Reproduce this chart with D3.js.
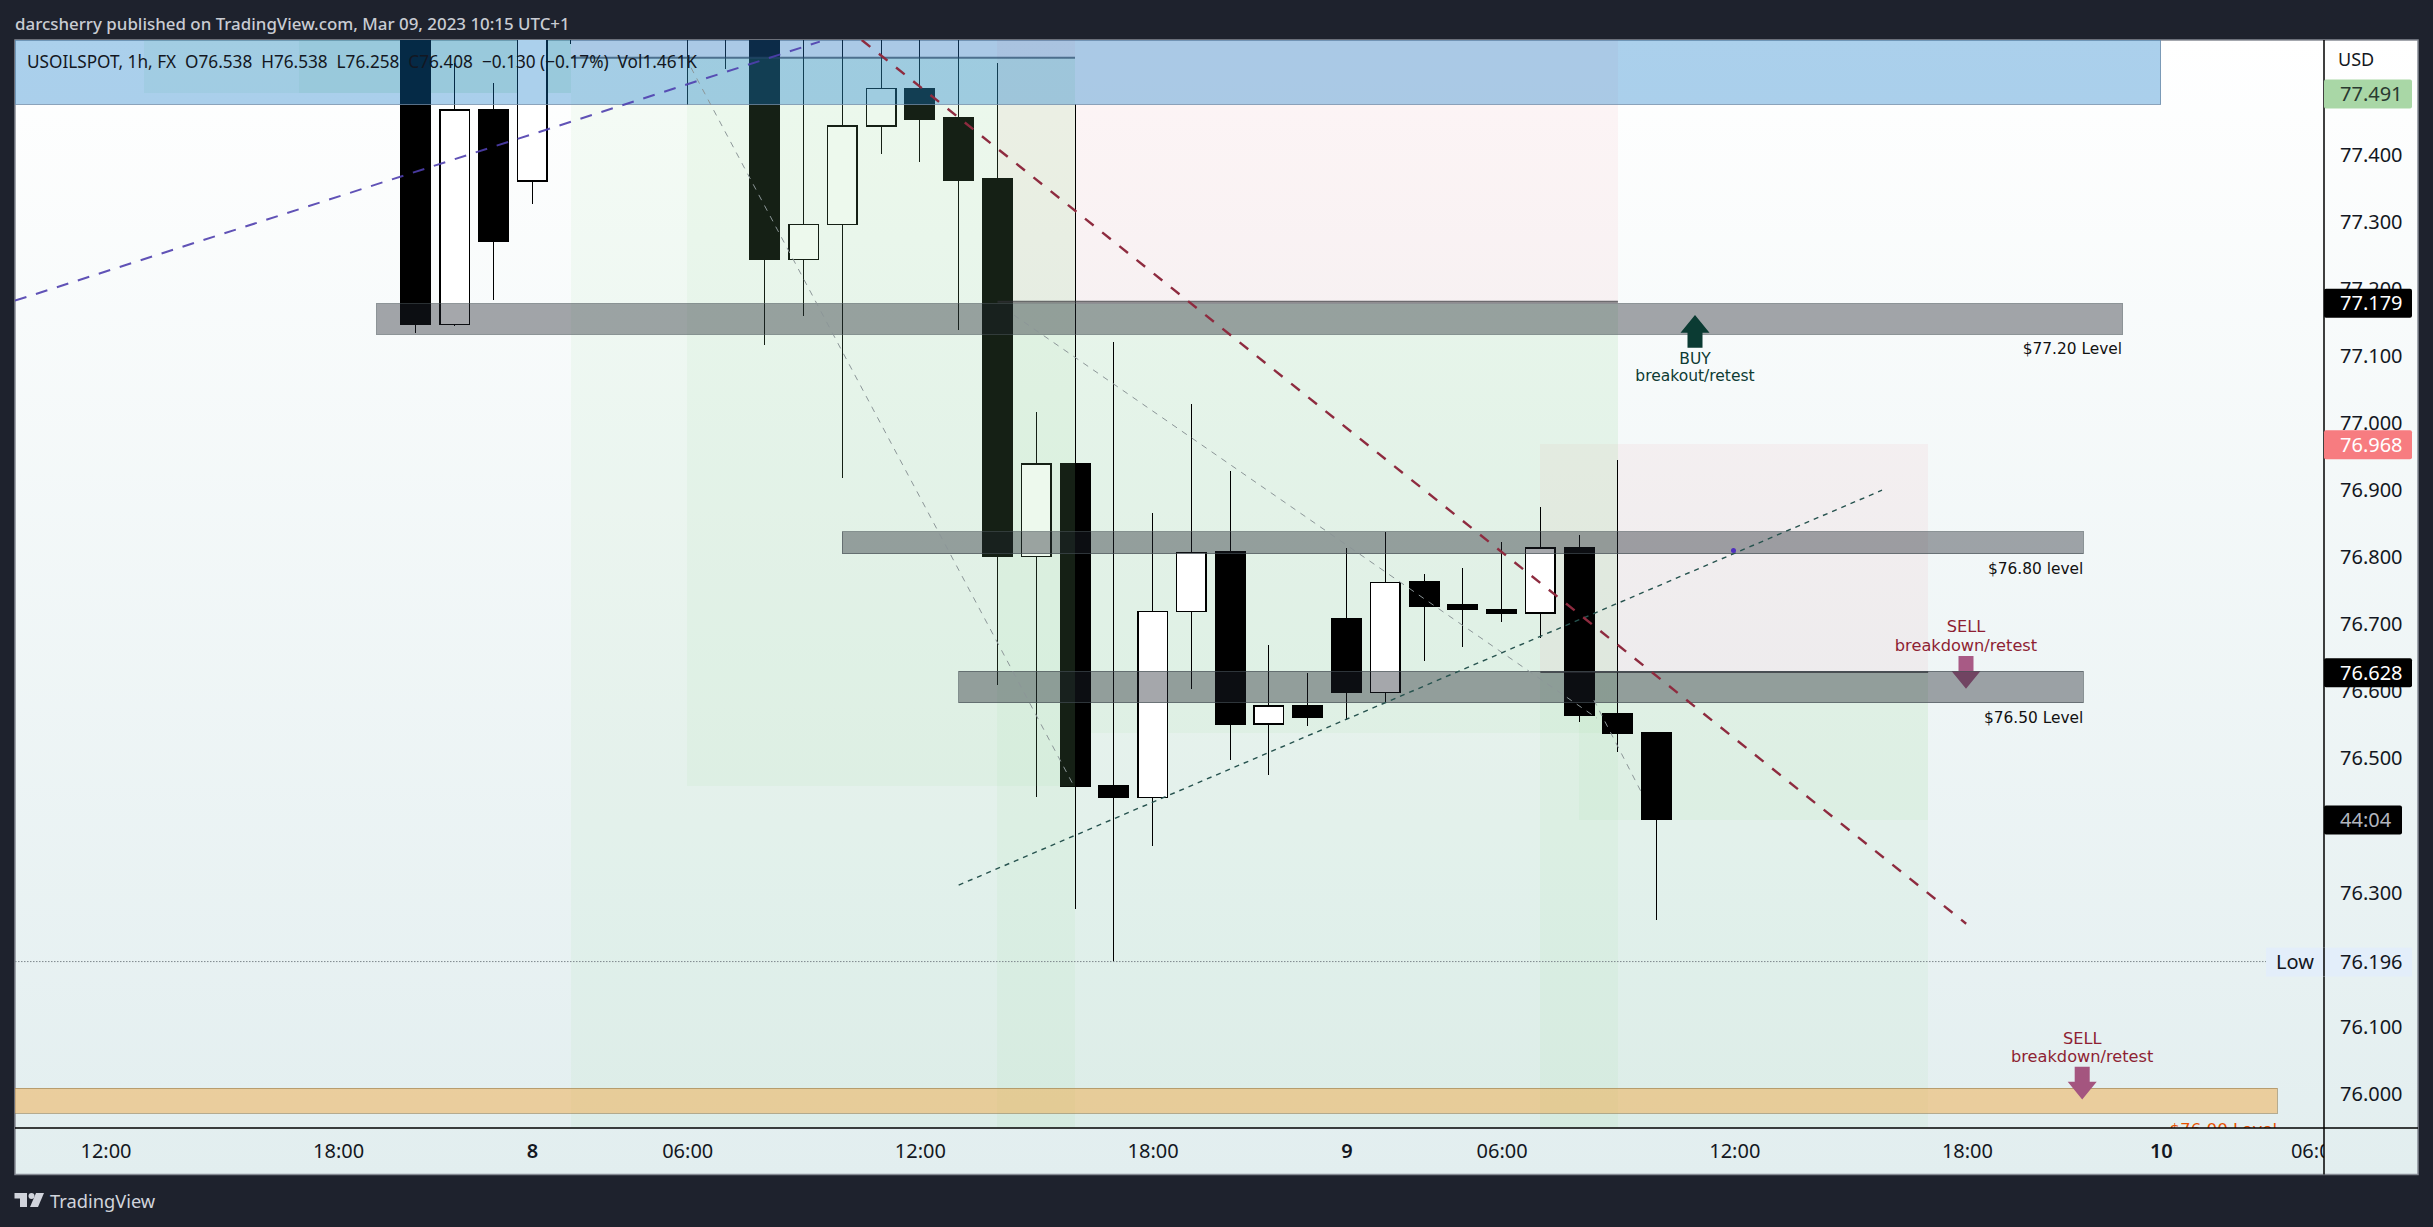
<!DOCTYPE html>
<html>
<head>
<meta charset="utf-8">
<script src="https://cdn.jsdelivr.net/npm/d3@7"></script>
<style>
html,body{margin:0;padding:0;background:#1e222d;overflow:hidden}
svg{display:block}
text{font-family:"Noto Sans",sans-serif;white-space:pre}
</style>
</head>
<body>
<svg id="chart" width="2433" height="1227"></svg>
<script>
// ---------- data ----------
const barIndex = d3.range(8, 41);
const opens  = [77.70,77.146,77.466,77.36,77.64,77.62,77.70,77.72,77.62,77.68,77.243,77.295,77.442,77.498,77.454,77.363,76.80,76.938,76.458,76.441,76.718,76.807,76.55,76.577,76.707,76.597,76.762,76.728,76.721,76.716,76.813,76.565,76.538];
const highs  = [77.75,77.536,77.506,77.68,77.70,77.75,77.78,77.76,77.72,77.72,77.62,77.62,77.62,77.62,77.62,77.536,77.016,77.475,77.12,76.865,77.028,76.928,76.668,76.626,76.813,76.837,76.774,76.783,76.822,76.874,76.832,76.944,76.538];
const lows   = [77.134,77.144,77.183,77.326,77.564,77.60,77.62,77.473,77.527,77.115,77.159,76.917,77.40,77.388,77.138,76.609,76.441,76.275,76.196,76.369,76.603,76.496,76.475,76.548,76.557,76.582,76.645,76.665,76.703,76.678,76.553,76.508,76.258];
const closes = [77.146,77.466,77.271,77.65,77.62,77.70,77.72,77.62,77.68,77.243,77.295,77.442,77.498,77.453,77.362,76.80,76.938,76.457,76.441,76.718,76.806,76.55,76.577,76.561,76.597,76.761,76.726,76.721,76.715,76.813,76.564,76.536,76.408];

const priceTicks = [76.0,76.1,76.3,76.5,76.6,76.7,76.8,76.9,77.0,77.1,77.2,77.3,77.4];
const timeTicks  = [0,6,11,15,21,27,32,36,42,48,53,57];
const timeLabels = ["12:00","18:00","8","06:00","12:00","18:00","9","06:00","12:00","18:00","10","06:00"];
const dayTicks   = ["8","9","10"];

// [first bar, last bar, top price, bottom price]
const toolsUnderBars = [
  [23,39,77.62,77.177,"pink"],[37,47,76.968,76.628,"pink"],
  [23,39,77.177,75.90,"green"],[25,39,77.177,76.537,"green"],
  [37,47,76.628,75.90,"green"],[38,47,76.628,76.407,"green"],
  [1,12,77.62,77.491,"strip"],[5,12,77.62,77.491,"strip"]
];
const toolsOverBars = [
  [12,25,77.62,77.544,"pink"],
  [12,25,77.544,75.90,"green"],[15,25,77.544,76.458,"green"]
];
const entryLines = [[12,25,77.544],[23,39,77.18],[37,47,76.628]];

const grayZones = [[7,52,77.177,77.1315],[19,51,76.837,76.804],[22,51,76.629,76.582]];
const blueZone = [-3,53,77.62,77.4746];
const orangeZone = [-3,56,76.007,75.970];
const lowPrice = 76.196;

const blueTrend  = [[-2.334,77.1817],[18.42,77.568]];
const redTrend   = [[19.50,77.5705],[47.98,76.2525]];
const greenTrend = [[22.0,76.310],[45.81,76.899]];
const grayTrends = [[[15.10,77.529],[24.97,76.458]],[[23.43,77.16],[38.46,76.559]],[[38.38,76.586],[39.60,76.449]]];
const bluePoint  = [41.98,76.809];

const levelLabels = [["$77.20 Level",52,77.1315,"#111"],["$76.80 level",51,76.804,"#111"],["$76.50 Level",51,76.582,"#111"]];
const priceBoxes = [[77.491,"77.491","#a9d7a6","#2a3a30"],[77.179,"77.179","#000","#fff"],[76.968,"76.968","#f77c80","#fff"],[76.628,"76.628","#000","#fff"]];
const legendText = "USOILSPOT, 1h, FX  O76.538  H76.538  L76.258  C76.408  \u22120.130 (\u22120.17%)  Vol1.461K";
const headerText = "darcsherry published on TradingView.com, Mar 09, 2023 10:15 UTC+1";

// ---------- layout ----------
const svg = d3.select("#chart");
const P = {l:15,t:40,axisX:2324,axisY:1128,r:2418,b:1174.5};
const x = d3.scaleLinear().domain([0,57]).range([105.5,105.5+38.78*57]);
const y = d3.scaleLinear().domain([76,77.4]).range([1093,154.3]);
const bodyW = 31;

const defs = svg.append("defs");
const grad = defs.append("linearGradient").attr("id","bg").attr("x1",0).attr("y1",0).attr("x2",0).attr("y2",1);
grad.append("stop").attr("offset","0%").attr("stop-color","#ffffff");
grad.append("stop").attr("offset","100%").attr("stop-color","#e2eeef");
defs.append("clipPath").attr("id","plot").append("rect").attr("x",P.l).attr("y",P.t).attr("width",P.axisX-P.l).attr("height",P.axisY-P.t);
defs.append("clipPath").attr("id","timeclip").append("rect").attr("x",P.l).attr("y",P.axisY).attr("width",P.axisX-P.l).attr("height",P.b-P.axisY);

svg.append("rect").attr("width",2433).attr("height",1227).attr("fill","#1e222d");
svg.append("rect").attr("x",P.l).attr("y",P.t).attr("width",P.r-P.l).attr("height",P.b-P.t).attr("fill","url(#bg)")
   .attr("stroke","#868b94").attr("stroke-width",1.5);

const plot = svg.append("g").attr("clip-path","url(#plot)");
const toolFill = {pink:"rgba(242,54,69,0.05)",green:"rgba(140,215,145,0.08)",strip:"rgba(140,215,145,0.12)"};
function drawRects(g, rows, fill, stroke, sw){
  g.selectAll(null).data(rows).join("rect")
    .attr("x",d=>x(d[0])).attr("width",d=>x(d[1])-x(d[0]))
    .attr("y",d=>y(d[2])).attr("height",d=>y(d[3])-y(d[2]))
    .attr("fill",fill).attr("stroke",stroke||"none").attr("stroke-width",sw||1)
    .attr("shape-rendering","crispEdges");
}
drawRects(plot.append("g"),toolsUnderBars,d=>toolFill[d[4]]);

// candles
const bars = barIndex.map((i,k)=>({i,o:opens[k],h:highs[k],l:lows[k],c:closes[k]}));
const gc = plot.append("g").attr("shape-rendering","crispEdges");
gc.selectAll("line").data(bars).join("line")
  .attr("x1",d=>x(d.i)).attr("x2",d=>x(d.i)).attr("y1",d=>y(d.h)).attr("y2",d=>y(d.l))
  .attr("stroke","#000").attr("stroke-width",1);
gc.selectAll("rect").data(bars).join("rect")
  .attr("x",d=>x(d.i)-bodyW/2+0.75).attr("width",bodyW-1.5)
  .attr("y",d=>y(Math.max(d.o,d.c))).attr("height",d=>Math.max(1,Math.abs(y(d.o)-y(d.c))))
  .attr("fill",d=>d.c>d.o?"#fff":"#000").attr("stroke","#000").attr("stroke-width",1.5);

drawRects(plot.append("g"),toolsOverBars,d=>toolFill[d[4]]);

plot.append("g").selectAll("line").data(entryLines).join("line")
  .attr("x1",d=>x(d[0])).attr("x2",d=>x(d[1])).attr("y1",d=>y(d[2])).attr("y2",d=>y(d[2]))
  .attr("stroke","rgba(50,50,55,0.7)").attr("stroke-width",2);

function arrow(g,cx,tip,dir,col){
  const sh=dir>0?32.7:-32.7, hb=dir>0?17.7:-17.7;
  const p=[[cx,tip],[cx-14.5,tip+hb],[cx-7.5,tip+hb],[cx-7.5,tip+sh],[cx+7.5,tip+sh],[cx+7.5,tip+hb],[cx+14.5,tip+hb]];
  g.append("path").attr("d",d3.line()(p)+"Z").attr("fill",col);
}
arrow(plot,1966,688.7,-1,"#a85a85");

drawRects(plot.append("g"),grayZones,"rgba(30,35,45,0.4)","rgba(70,80,85,0.6)");
drawRects(plot.append("g"),[orangeZone],"rgba(240,175,80,0.52)","rgba(150,125,80,0.6)");
drawRects(plot.append("g"),[blueZone],"rgba(14,120,200,0.35)","rgba(110,140,170,0.8)");

arrow(plot,2082.2,1099.4,-1,"#a4557f");
arrow(plot,1695,315,1,"#0b3b33");

// trend lines
const line = d3.line().x(d=>x(d[0])).y(d=>y(d[1]));
plot.append("path").attr("d",line(blueTrend)).attr("fill","none").attr("stroke","#4f3fae").attr("stroke-width",2).attr("stroke-dasharray","12 10").attr("opacity",.9);
plot.selectAll(null).data(grayTrends).join("path").attr("d",line).attr("fill","none").attr("stroke","#8c9698").attr("stroke-width",1).attr("stroke-dasharray","6 6");
plot.append("path").attr("d",line(greenTrend)).attr("fill","none").attr("stroke","#27534f").attr("stroke-width",1.4).attr("stroke-dasharray","5 5");
plot.append("path").attr("d",line(redTrend)).attr("fill","none").attr("stroke","#8e2b3f").attr("stroke-width",2.4).attr("stroke-dasharray","11 11");
plot.append("circle").attr("cx",x(bluePoint[0])).attr("cy",y(bluePoint[1])).attr("r",2.5).attr("fill","#4f2fbe");

// low line
plot.append("line").attr("x1",P.l).attr("x2",2266).attr("y1",y(lowPrice)).attr("y2",y(lowPrice))
  .attr("stroke","#7d878c").attr("stroke-width",1).attr("stroke-dasharray","1.5 1.5");

// labels on the chart
const dj = '"DejaVu Sans",sans-serif';
plot.selectAll(null).data(levelLabels).join("text")
  .attr("x",d=>x(d[1])).attr("y",d=>y(d[2])+14.5).attr("dy",".36em").attr("text-anchor","end")
  .attr("font-size",15.4).style("font-family",dj).attr("fill",d=>d[3]).text(d=>d[0]);
plot.append("text").attr("x",x(56)).attr("y",1129).attr("dy",".36em").attr("text-anchor","end")
  .attr("font-size",16.7).style("font-family",dj).attr("fill","#e65100").text("$76.00 Level");
const sellRows=[[1966,626.6,"SELL"],[1966,645,"breakdown/retest"],[2082.2,1037.8,"SELL"],[2082.2,1056,"breakdown/retest"]];
plot.selectAll(null).data(sellRows).join("text").attr("x",d=>d[0]).attr("y",d=>d[1]).attr("dy",".36em").attr("text-anchor","middle")
  .attr("font-size",16.2).style("font-family",dj).attr("fill","#8e1f33").text(d=>d[2]);
const buyRows=[[1695,358.7,"BUY"],[1695,375,"breakout/retest"]];
plot.selectAll(null).data(buyRows).join("text").attr("x",d=>d[0]).attr("y",d=>d[1]).attr("dy",".36em").attr("text-anchor","middle")
  .attr("font-size",15.5).style("font-family",dj).attr("fill","#0d3b33").text(d=>d[2]);

// legend / header
svg.append("text").attr("x",27).attr("y",62).attr("dy",".36em").attr("font-size",17.2).attr("fill","#131722").text(legendText);
svg.append("text").attr("x",15).attr("y",24).attr("dy",".36em").attr("font-size",16.9).attr("font-weight",500).attr("fill","#c9ccd3").text(headerText);

// axes
const yAxis = svg.append("g").attr("transform",`translate(${P.axisX},0)`)
  .call(d3.axisRight(y).tickValues(priceTicks).tickFormat(d3.format(".3f")).tickSize(0).tickPadding(16));
yAxis.select(".domain").remove();
yAxis.selectAll("text").attr("font-size",20).attr("dy",".36em").style("font-family",'"Noto Sans",sans-serif').attr("fill","#131722");

const xAxis = svg.append("g").attr("clip-path","url(#timeclip)").append("g").attr("transform",`translate(0,${P.axisY})`)
  .call(d3.axisBottom(x).tickValues(timeTicks).tickFormat((d,i)=>timeLabels[i]).tickSize(0).tickPadding(15.6));
xAxis.select(".domain").remove();
xAxis.selectAll("text").attr("font-size",20).style("font-family",'"Noto Sans",sans-serif').attr("fill","#131722")
  .attr("font-weight",(d,i)=>dayTicks.includes(timeLabels[i])?600:400);

svg.append("line").attr("x1",P.axisX).attr("x2",P.axisX).attr("y1",P.t).attr("y2",P.b).attr("stroke","#000").attr("stroke-width",1.5);
svg.append("line").attr("x1",P.l).attr("x2",P.r).attr("y1",P.axisY).attr("y2",P.axisY).attr("stroke","#000").attr("stroke-width",1.5);

svg.append("text").attr("x",2338).attr("y",60).attr("dy",".36em").attr("font-size",18).attr("fill","#131722").text("USD");

// price boxes
const boxes = svg.append("g");
boxes.selectAll("rect").data(priceBoxes).join("rect").attr("x",P.axisX).attr("width",88).attr("height",29).attr("rx",2)
  .attr("y",d=>y(d[0])-13.7).attr("fill",d=>d[2]);
boxes.selectAll("text").data(priceBoxes).join("text").attr("x",P.axisX+16).attr("y",d=>y(d[0])+0.8).attr("dy",".36em")
  .attr("font-size",20).attr("fill",d=>d[3]).text(d=>d[1]);
// countdown
svg.append("rect").attr("x",P.axisX).attr("y",y(76.408)-14).attr("width",78).attr("height",29).attr("rx",2).attr("fill","#000");
svg.append("text").attr("x",P.axisX+16).attr("y",y(76.408)+0.5).attr("dy",".36em").attr("font-size",20).attr("fill","#b2b5be").text("44:04");
// low tag
svg.append("rect").attr("x",2266).attr("y",y(lowPrice)-14).attr("width",146).attr("height",29).attr("fill","#e3eefa");
svg.append("line").attr("x1",P.axisX).attr("x2",P.axisX).attr("y1",y(lowPrice)-14).attr("y2",y(lowPrice)+15).attr("stroke","#000").attr("stroke-width",1.5);
svg.append("text").attr("x",2276).attr("y",y(lowPrice)).attr("dy",".36em").attr("font-size",20).attr("fill","#131722").text("Low");
svg.append("text").attr("x",P.axisX+16).attr("y",y(lowPrice)).attr("dy",".36em").attr("font-size",20).attr("fill","#131722").text(d3.format(".3f")(lowPrice));

// footer logo
const logo = svg.append("g").attr("fill","#d1d4dc");
logo.append("path").attr("d","M14.5 1193H27V1207H20V1198.5H14.5Z");
logo.append("circle").attr("cx",31.5).attr("cy",1196).attr("r",3);
logo.append("path").attr("d","M36 1193H44L38 1207H30Z");
svg.append("text").attr("x",50).attr("y",1201.5).attr("dy",".36em").attr("font-size",18.3).attr("fill","#d1d4dc").text("TradingView");
</script>
</body>
</html>
